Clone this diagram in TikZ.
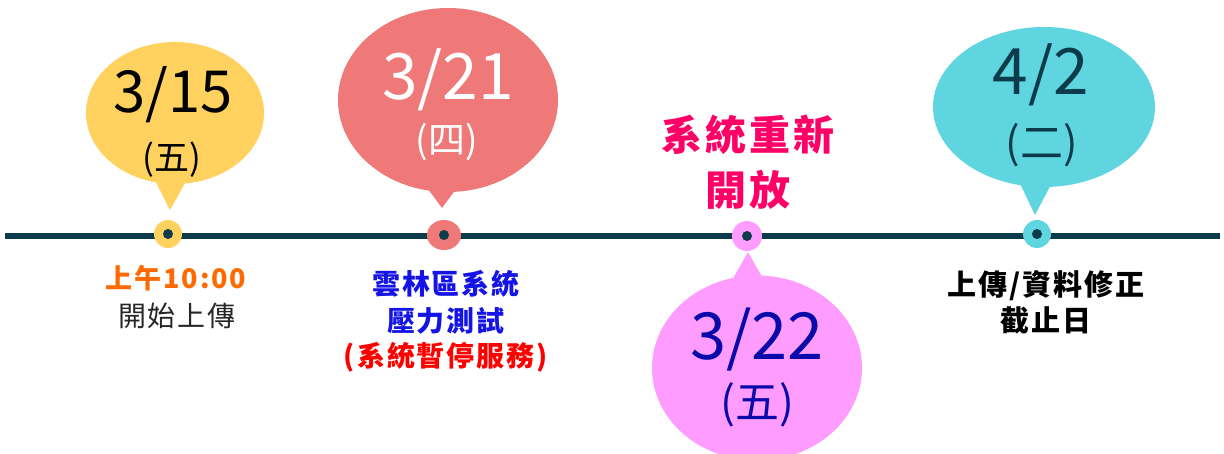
\documentclass[tikz,border=0pt]{standalone}
\usepackage{fontspec}
\setmainfont{Noto Sans CJK TC}
\newfontfamily\spaced[LetterSpace=7]{Noto Sans CJK TC}
\usepackage{xcolor}
\usetikzlibrary{shapes.geometric}
\usetikzlibrary{positioning}
\usetikzlibrary{calc}

\definecolor{linedark}{HTML}{0C3B4C}
\definecolor{sunny}{HTML}{FFD15E}
\definecolor{coral}{HTML}{EF7979}
\definecolor{orchid}{HTML}{FF9CFF}
\definecolor{aqua}{HTML}{5FD5DF}
\definecolor{orangetxt}{HTML}{FF6A00}
\definecolor{bluetxt}{HTML}{1414E6}
\definecolor{navytxt}{HTML}{0A0AAA}
\definecolor{rosetxt}{HTML}{FF0066}
\newcommand{\fs}[1]{\fontsize{#1}{#1}\selectfont}

\begin{document}
\begin{tikzpicture}[x=1pt, y=-1pt,
  bubble/.style={ellipse, inner sep=0pt},
  ring/.style={circle, inner sep=0pt, minimum size=28pt},
  hole/.style={circle, fill=linedark, inner sep=0pt, minimum size=10pt},
  label/.style={inner sep=0pt, align=center}]
  \clip (0,0) rectangle (1224,454);

  % timeline
  \coordinate (start) at (5,236);
  \coordinate (end) at (1220,236);
  \draw[linedark, line width=6pt] (start) -- (end);

  % 3/15
  \node[bubble, fill=sunny, minimum width=178pt, minimum height=142pt] (b1) at (175,113) {};
  \coordinate (t1) at (170,210);
  \fill[sunny] ($(b1.south)+(-24,-12)$) -- (t1) -- ($(b1.south)+(16,-12)$) -- cycle;
  \node[label, font=\fs{58}] (d1) at (173,95) {3/15};
  \node[label, font=\fs{35}] (w1) at (172,160) {(五)};
  \node[ring, fill=sunny] (r1) at (168,234) {};
  \node[hole] (h1) at (r1) {};
  \node[label, font=\spaced\bfseries\fs{27}, text=orangetxt] (a1) at (176,278) {上午10:00};
  \node[label, font=\spaced\fs{28}, text=black!85] (c1) at (177,316) {開始上傳};

  % 3/21
  \node[bubble, fill=coral, minimum width=220pt, minimum height=184pt] (b2) at (448,100) {};
  \coordinate (t2) at (442,208);
  \fill[coral] ($(b2.south)+(-28,-14)$) -- (t2) -- ($(b2.south)+(16,-14)$) -- cycle;
  \node[label, font=\fs{64}, text=white] (d2) at (448,80) {3/21};
  \node[label, font=\fs{37}, text=white] (w2) at (447,142) {(四)};
  \node[ring, fill=coral, minimum width=34pt, minimum height=30pt, ellipse] (r2) at (444,235) {};
  \node[hole] (h2) at (r2) {};
  \node[label, font=\spaced\bfseries\fs{28}, text=bluetxt] (a2) at (446,284) {雲林區系統};
  \node[label, font=\spaced\bfseries\fs{28}, text=bluetxt] (c2) at (446,321) {壓力測試};
  \node[label, font=\spaced\bfseries\fs{28}, text=red] (e2) at (446,357) {(系統暫停服務)};

  % 3/22
  \node[label, font=\spaced\bfseries\fs{41}, text=rosetxt] (a3) at (748,135) {系統重新};
  \node[label, font=\spaced\bfseries\fs{41}, text=rosetxt] (c3) at (748,190) {開放};
  \node[bubble, fill=orchid, minimum width=210pt, minimum height=185pt] (b3) at (757,368) {};
  \coordinate (t3) at (748,252);
  \fill[orchid] ($(b3.north)+(-30,14)$) -- (t3) -- ($(b3.north)+(12,14)$) -- cycle;
  \node[label, font=\fs{65}, text=navytxt] (d3) at (757,340) {3/22};
  \node[label, font=\fs{44}, text=navytxt] (w3) at (757,405) {(五)};
  \node[ring, fill=orchid, minimum size=30pt] (r3) at (747,236) {};
  \node[hole] (h3) at (r3) {};

  % 4/2
  \node[bubble, fill=aqua, minimum width=222pt, minimum height=160pt] (b4) at (1044,107) {};
  \coordinate (t4) at (1035,215);
  \fill[aqua] ($(b4.south)+(-28,-12)$) -- (t4) -- ($(b4.south)+(12,-12)$) -- cycle;
  \node[label, font=\fs{64}, text=linedark] (d4) at (1041,75) {4/2};
  \node[label, font=\fs{43}, text=linedark] (w4) at (1042,145) {(二)};
  \node[ring, fill=aqua] (r4) at (1037,234) {};
  \node[hole] (h4) at (r4) {};
  \node[label, font=\spaced\bfseries\fs{29}, text=black] (a4) at (1046,286) {上傳/資料修正};
  \node[label, font=\spaced\bfseries\fs{29}, text=black] (c4) at (1046,320) {截止日};
\end{tikzpicture}
\end{document}
